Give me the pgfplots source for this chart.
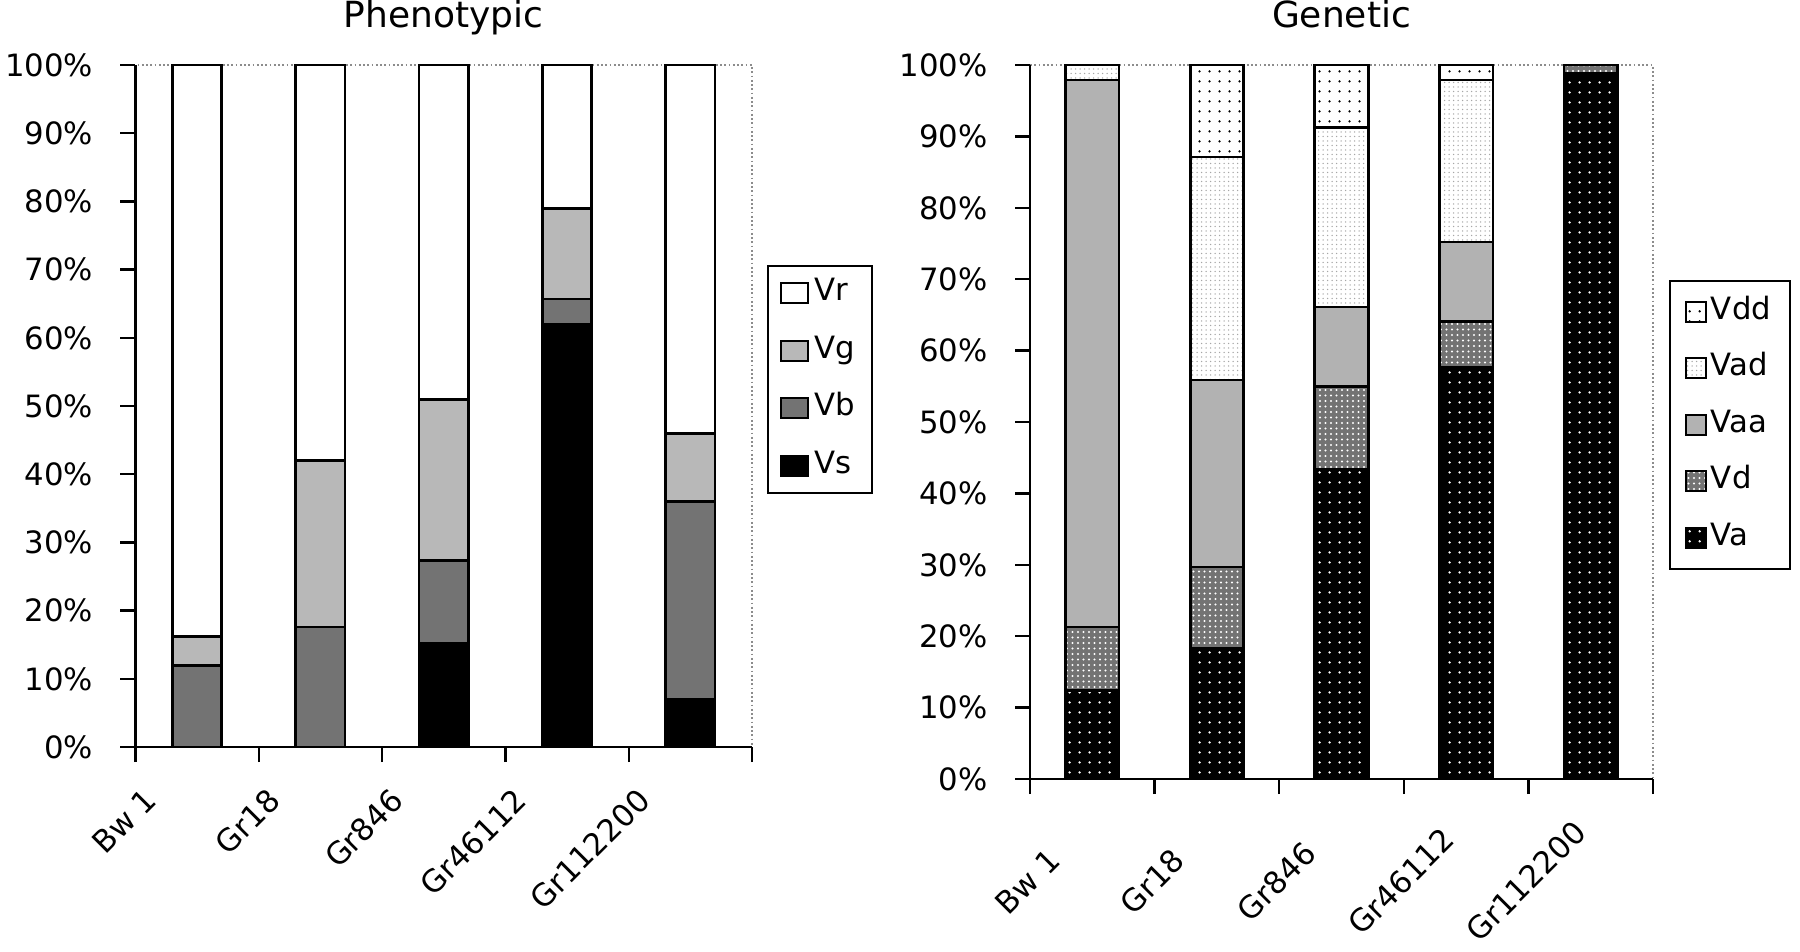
\documentclass[border=0pt]{standalone}
\usepackage{fontspec}
\setmainfont{DejaVu Sans}
\usepackage{pgfplots}
\pgfplotsset{compat=1.18}
\usetikzlibrary{patterns.meta}

\pgfplotsset{
 mybase/.style={
  scale only axis,
  anchor=south west,
  ybar stacked,
  clip=false,
  ymin=0, ymax=100,
  xmin=-0.5, xmax=4.5,
  ytick={0,10,...,100},
  yticklabel={\pgfmathprintnumber{\tick}\%},
  /pgf/number format/assume math mode=true,
  xtick={0,...,4},
  xticklabels={Bw 1,Gr18,Gr846,Gr46112,Gr112200},
  minor xtick={-0.5,0.5,...,4.5},
  tick pos=left,
  tick align=outside,
  major tick length=6pt,
  minor tick length=6pt,
  major x tick style={draw=none},
  tick style={black, line width=0.9pt},
  axis line style={draw=black!45, densely dotted, line width=0.7pt},
  ticklabel style={font=\fontsize{12.3}{14}\selectfont},
  yticklabel style={xshift=-7.5pt},
  reverse legend,
  legend cell align=left,
 }
}
\tikzset{
 sVr/.style={draw=black, line width=1.1pt, fill=white},
 sVg/.style={draw=black, line width=1.1pt, fill=black!28},
 sVb/.style={draw=black, line width=1.1pt, fill=black!55},
 sVs/.style={draw=black, line width=1.1pt, fill=black},
 sVdd/.style={draw=black, line width=1.1pt, fill=white, postaction={pattern={Dots[distance=4pt,radius=0.55pt]}, pattern color=black}},
 sVad/.style={draw=black, line width=1.1pt, fill=white, postaction={pattern={Dots[distance=1.8pt,radius=0.3pt]}, pattern color=black!35}},
 sVaa/.style={draw=black, line width=1.1pt, fill=black!30},
 sVd/.style={draw=black, line width=1.1pt, fill=black!55, postaction={pattern={Dots[distance=2.2pt,radius=0.45pt]}, pattern color=white}},
 sVa/.style={draw=black, line width=1.1pt, fill=black, postaction={pattern={Dots[distance=4pt,radius=0.55pt]}, pattern color=white}},
}

\begin{document}
\begin{tikzpicture}
\useasboundingbox (0,0) rectangle (720pt,-380.4pt);

\begin{axis}[mybase,
  at={(54.2pt,-298.8pt)}, width=246.6pt, height=272.8pt,
  bar width=0.4,
  xticklabel style={rotate=45, anchor=north east, xshift=-18.8pt, yshift=12pt},
  legend style={at={(1.024,0.707)}, anchor=north west, draw=black, line width=0.8pt,
    inner xsep=5pt, inner ysep=5pt, row sep=11pt,
    font=\fontsize{12.3}{14}\selectfont,
    nodes={text height=9pt, text depth=3pt, inner ysep=0pt, inner xsep=2pt}},
  legend image code/.code={\draw[#1, line width=0.8pt] (0pt,-4pt) rectangle (10.7pt,4pt);},
]
\addplot[sVs] coordinates {(0,0) (1,0) (2,15.2) (3,61.9) (4,7)};
\addlegendentry{Vs}
\addplot[sVb] coordinates {(0,12) (1,17.6) (2,12.1) (3,3.8) (4,29)};
\addlegendentry{Vb}
\addplot[sVg] coordinates {(0,4.2) (1,24.4) (2,23.7) (3,13.3) (4,10)};
\addlegendentry{Vg}
\addplot[sVr] coordinates {(0,83.8) (1,58) (2,49) (3,21) (4,54)};
\addlegendentry{Vr}
\draw[black, line width=1pt] (rel axis cs:0,1) -- (rel axis cs:0,0) -- (rel axis cs:1,0);
\node[anchor=base, font=\fontsize{14.4}{16}\selectfont] at ([yshift=15.2pt]rel axis cs:0.5,1) {Phenotypic};
\end{axis}

\begin{axis}[mybase,
  at={(412pt,-311.6pt)}, width=249.2pt, height=285.6pt,
  bar width=0.43,
  xticklabel style={rotate=45, anchor=center, xshift=-43.1pt, yshift=-6.4pt},
  legend style={at={(1.026,0.699)}, anchor=north west, draw=black, line width=0.8pt,
    inner xsep=6pt, inner ysep=6.4pt, row sep=10.6pt,
    font=\fontsize{12.3}{14}\selectfont,
    nodes={text height=9pt, text depth=3pt, inner ysep=0pt, inner xsep=1.5pt}},
  legend image code/.code={\draw[#1, line width=0.8pt] (0pt,-4pt) rectangle (8pt,4pt);},
]
\addplot[sVa] coordinates {(0,12.4) (1,18.3) (2,43.4) (3,57.7) (4,98.8)};
\addlegendentry{Va}
\addplot[sVd] coordinates {(0,8.9) (1,11.4) (2,11.6) (3,6.4) (4,1.2)};
\addlegendentry{Vd}
\addplot[sVaa] coordinates {(0,76.6) (1,26.2) (2,11.1) (3,11.1) (4,0)};
\addlegendentry{Vaa}
\addplot[sVad] coordinates {(0,2.1) (1,31.2) (2,25.2) (3,22.7) (4,0)};
\addlegendentry{Vad}
\addplot[sVdd] coordinates {(0,0) (1,12.9) (2,8.7) (3,2.1) (4,0)};
\addlegendentry{Vdd}
\draw[black, line width=1pt] (rel axis cs:0,1) -- (rel axis cs:0,0) -- (rel axis cs:1,0);
\node[anchor=base, font=\fontsize{14.4}{16}\selectfont] at ([yshift=15.2pt]rel axis cs:0.5,1) {Genetic};
\end{axis}
\end{tikzpicture}
\end{document}
